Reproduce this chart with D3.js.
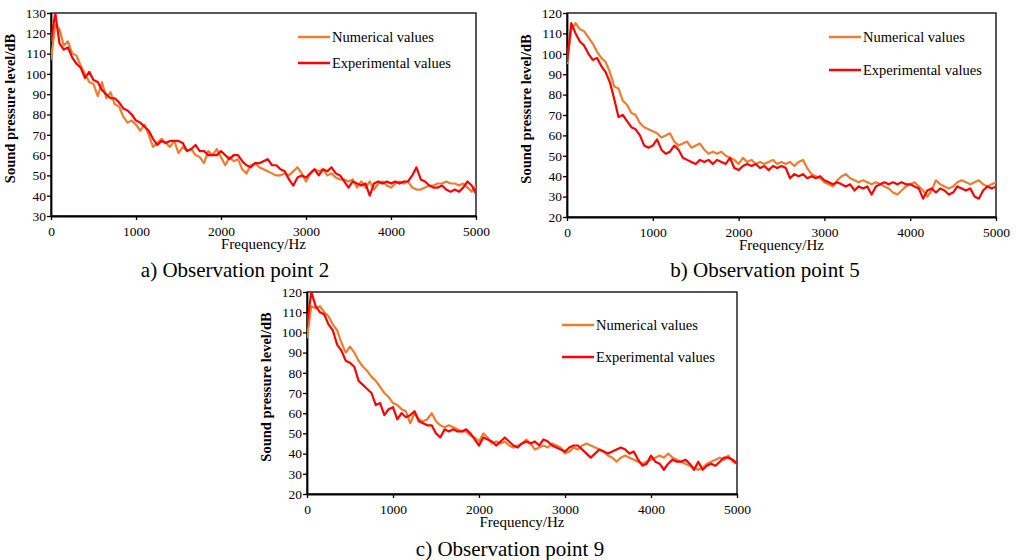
<!DOCTYPE html>
<html>
<head>
<meta charset="utf-8">
<script src="https://cdn.jsdelivr.net/npm/d3@7"></script>
<style>
  body { margin: 0; background: #fff; }
</style>
</head>
<body>
<div id="chart"></div>
<script>
const SERIF = "'Times New Roman', 'Liberation Serif', 'DejaVu Serif', serif"

// frequency grid (Hz), shared by all panels
const freqs = [
  0, 50, 100, 150, 200, 250, 300, 350, 400, 450,
  500, 550, 600, 650, 700, 750, 800, 850, 900, 950,
  1000, 1050, 1100, 1150, 1200, 1250, 1300, 1350, 1400, 1450,
  1500, 1550, 1600, 1650, 1700, 1750, 1800, 1850, 1900, 1950,
  2000, 2050, 2100, 2150, 2200, 2250, 2300, 2350, 2400, 2450,
  2500, 2550, 2600, 2650, 2700, 2750, 2800, 2850, 2900, 2950,
  3000, 3050, 3100, 3150, 3200, 3250, 3300, 3350, 3400, 3450,
  3500, 3550, 3600, 3650, 3700, 3750, 3800, 3850, 3900, 3950,
  4000, 4050, 4100, 4150, 4200, 4250, 4300, 4350, 4400, 4450,
  4500, 4550, 4600, 4650, 4700, 4750, 4800, 4850, 4900, 4950,
  5000
]

const xTicks = [0, 1000, 2000, 3000, 4000, 5000]
const seriesNames = ["Numerical values", "Experimental values"]
const seriesColors = ["#ED7D31", "#FF0000"]

// observation point 2
const numP2 = [
  107, 124, 122, 114, 116, 110, 109, 104, 100, 96,
  95, 89, 96, 88, 91, 85, 84, 79, 76, 77,
  75, 72, 75, 70, 64, 66, 68, 66, 64, 67,
  61, 64, 62, 63, 60, 59, 56, 62, 60, 63,
  59, 55, 59, 57, 58, 53, 51, 55, 56, 54,
  53, 52, 51, 50, 50, 51, 50, 52, 54, 51,
  47, 51, 53, 52, 53, 50, 51, 49, 48, 48,
  47, 48, 44, 47, 44, 47, 43, 46, 47, 45,
  44, 46, 47, 46, 47, 44, 43, 43, 44, 45,
  45, 46, 46, 47, 46, 46, 45, 46, 44, 42,
  45
]
const expP2 = [
  116, 130, 115, 112, 113, 108, 105, 103, 98, 101,
  97, 96, 92, 90, 88, 88, 86, 83, 82, 80,
  77, 76, 74, 72, 68, 65, 67, 66, 67, 67,
  67, 66, 62, 63, 65, 62, 62, 60, 60, 60,
  62, 60, 58, 60, 60, 57, 55, 54, 56, 56,
  57, 58, 55, 55, 53, 52, 48, 45, 49, 50,
  49, 51, 53, 50, 53, 52, 54, 51, 50, 47,
  44, 47, 46, 45, 46, 40, 46, 47, 46, 47,
  46, 47, 46, 47, 47, 50, 54, 48, 47, 45,
  44, 44, 45, 43, 42, 43, 42, 44, 47, 45,
  41
]

// observation point 5
const numP5 = [
  95, 112, 115, 112, 111, 108, 105, 101, 98, 96,
  91, 84, 83, 77, 75, 71, 70, 66, 64, 63,
  62, 61, 59, 60, 61, 57, 55, 56, 57, 54,
  55, 56, 53, 51, 52, 51, 52, 50, 49, 48,
  46, 49, 47, 48, 46, 47, 46, 47, 48, 46,
  47, 46, 47, 45, 47, 48, 44, 41, 40, 39,
  37, 36, 35, 38, 40, 41, 39, 38, 37, 38,
  37, 36, 37, 36, 35, 34, 32, 31, 33, 35,
  36, 37, 35, 33, 30, 33, 38, 36, 35, 34,
  35, 37, 38, 37, 36, 37, 38, 36, 35, 36,
  37
]
const expP5 = [
  96, 115, 110, 106, 104, 100, 97, 98, 94, 91,
  86, 78, 69, 70, 67, 64, 63, 60, 55, 54,
  55, 58, 53, 51, 52, 55, 53, 49, 48, 47,
  46, 48, 47, 48, 46, 48, 47, 46, 49, 44,
  43, 45, 46, 45, 46, 44, 45, 43, 45, 44,
  45, 44, 39, 41, 40, 41, 39, 40, 39, 40,
  38, 37, 36, 37, 36, 35, 36, 33, 35, 34,
  35, 31, 35, 36, 37, 36, 37, 36, 37, 36,
  36, 35, 34, 29, 33, 34, 32, 34, 33, 31,
  32, 35, 34, 33, 34, 30, 29, 33, 35, 34,
  35
]

// observation point 9
const numP9 = [
  97, 113, 112, 113, 110, 108, 104, 101, 95, 90,
  93, 90, 86, 83, 81, 78, 76, 73, 70, 68,
  65, 64, 62, 61, 55, 60, 57, 56, 57, 60,
  56, 54, 53, 54, 53, 52, 51, 51, 49, 48,
  46, 50, 48, 45, 46, 45, 46, 44, 43, 44,
  45, 47, 45, 42, 43, 44, 43, 45, 44, 43,
  40, 41, 43, 42, 44, 45, 44, 43, 42, 41,
  39, 38, 36, 38, 39, 38, 37, 36, 35, 36,
  37, 38, 39, 38, 40, 38, 37, 36, 35, 34,
  33, 32, 33, 35, 36, 37, 38, 37, 39, 36,
  35
]
const expP9 = [
  104, 120, 113, 110, 109, 104, 101, 94, 91, 86,
  85, 83, 76, 74, 72, 70, 64, 65, 59, 62,
  63, 57, 60, 58, 59, 61, 56, 55, 54, 54,
  50, 48, 52, 51, 52, 51, 51, 52, 50, 47,
  44, 48, 47, 46, 44, 46, 48, 46, 44, 43,
  45, 46, 45, 46, 44, 47, 46, 44, 43, 42,
  41, 43, 44, 44, 42, 40, 38, 40, 42, 41,
  40, 41, 42, 43, 42, 40, 41, 37, 34, 35,
  39, 36, 35, 32, 35, 37, 36, 36, 37, 35,
  32, 36, 32, 34, 35, 34, 36, 38, 38, 37,
  35
]

const panels = [
  { id: "a", left: 51, top: 13, width: 425, height: 203, yDomain: [30, 130], yStep: 10,
    series: [numP2, expP2], legend: [298, 37, 26], caption: "a) Observation point 2", capX: 235, capY: 277 },
  { id: "b", left: 567, top: 13, width: 429, height: 204, yDomain: [20, 120], yStep: 10,
    series: [numP5, expP5], legend: [829, 37, 33], caption: "b) Observation point 5", capX: 765, capY: 277 },
  { id: "c", left: 307, top: 292, width: 430, height: 202, yDomain: [20, 120], yStep: 10,
    series: [numP9, expP9], legend: [562, 325, 32], caption: "c) Observation point 9", capX: 510, capY: 556 }
]

const svg = d3.select("#chart").append("svg")
  .attr("width", 1016)
  .attr("height", 560)

svg.append("rect").attr("width", 1016).attr("height", 560).attr("fill", "#fff")

panels.forEach(p => {
  let g = svg.append("g")
    .attr("transform", "translate(" + p.left + "," + p.top + ")")

  let x = d3.scaleLinear().domain([0, 5000]).range([0, p.width])
  let y = d3.scaleLinear().domain(p.yDomain).range([p.height, 0])

  let yTicks = d3.range(p.yDomain[0], p.yDomain[1] + 1, p.yStep)

  // clip for the curves
  g.append("clipPath").attr("id", "clip-" + p.id)
    .append("rect").attr("width", p.width).attr("height", p.height)

  // frame
  g.append("rect")
    .attr("width", p.width)
    .attr("height", p.height)
    .attr("fill", "none")
    .attr("stroke", "#000")
    .attr("stroke-width", 1.3)

  // axes
  let xAxis = g.append("g")
    .attr("transform", "translate(0," + p.height + ")")
    .call(d3.axisBottom(x).tickValues(xTicks).tickSize(4).tickSizeOuter(0).tickFormat(d3.format("d")))
  let yAxis = g.append("g")
    .call(d3.axisLeft(y).tickValues(yTicks).tickSize(4).tickSizeOuter(0).tickFormat(d3.format("d")))

  ;[xAxis, yAxis].forEach(a => {
    a.attr("font-family", null)
    a.select(".domain").attr("stroke", "#000").attr("stroke-width", 1.8)
    a.selectAll(".tick line").attr("stroke", "#000").attr("stroke-width", 1.3)
    a.selectAll(".tick text")
      .style("font-family", SERIF)
      .style("font-size", "13.5px")
      .attr("fill", "#000")
  })
  xAxis.selectAll(".tick text").attr("dy", "0.95em")
  yAxis.selectAll(".tick text").attr("x", -5)

  // axis titles
  g.append("text")
    .attr("x", p.width / 2)
    .attr("y", p.height + 33)
    .attr("text-anchor", "middle")
    .style("font-family", SERIF)
    .style("font-size", "15px")
    .text("Frequency/Hz")

  g.append("text")
    .attr("transform", "translate(-36," + (p.height / 2 - 6) + ") rotate(-90)")
    .attr("text-anchor", "middle")
    .style("font-family", SERIF)
    .style("font-size", "14.5px")
    .style("font-weight", "bold")
    .text("Sound pressure level/dB")

  // curves
  let line = d3.line()
    .x((d, i) => x(freqs[i]))
    .y(d => y(d))

  let curves = g.append("g").attr("clip-path", "url(#clip-" + p.id + ")")
  p.series.forEach((s, k) => {
    curves.append("path")
      .datum(s)
      .attr("fill", "none")
      .attr("stroke", seriesColors[k])
      .attr("stroke-width", 2.2)
      .attr("stroke-linejoin", "round")
      .attr("d", line)
  })

  // legend (absolute coordinates)
  let lg = svg.append("g")
  seriesNames.forEach((name, k) => {
    let ly = p.legend[1] + k * p.legend[2]
    lg.append("line")
      .attr("x1", p.legend[0]).attr("x2", p.legend[0] + 32)
      .attr("y1", ly).attr("y2", ly)
      .attr("stroke", seriesColors[k])
      .attr("stroke-width", 2.5)
    lg.append("text")
      .attr("x", p.legend[0] + 34)
      .attr("y", ly + 4.5)
      .style("font-family", SERIF)
      .style("font-size", "14.5px")
      .text(name)
  })

  // caption
  svg.append("text")
    .attr("x", p.capX)
    .attr("y", p.capY)
    .attr("text-anchor", "middle")
    .style("font-family", SERIF)
    .style("font-size", "21px")
    .text(p.caption)
})
</script>
</body>
</html>
